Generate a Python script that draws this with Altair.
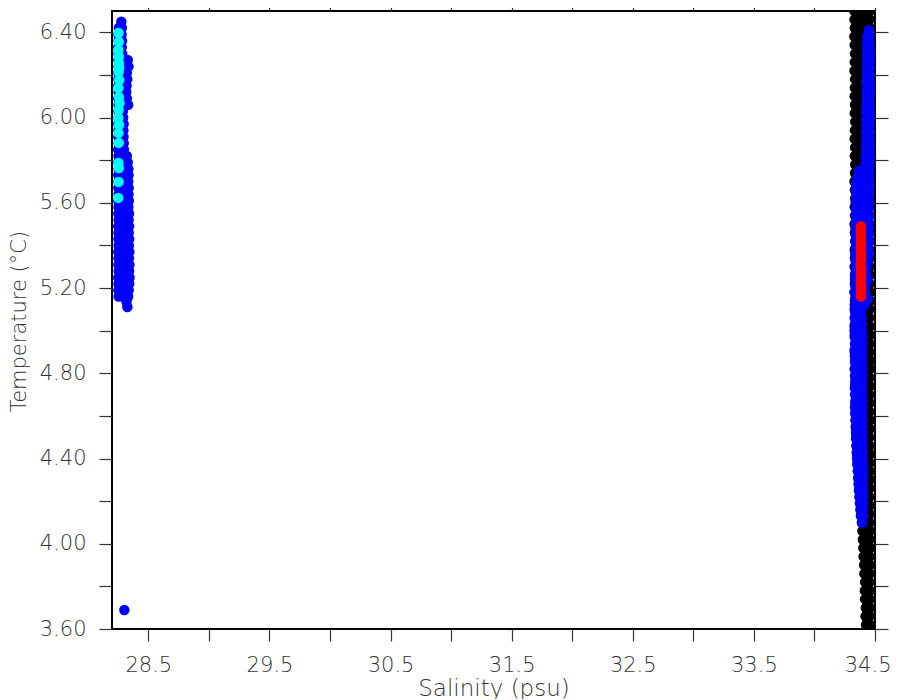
import altair as alt
import pandas as pd

# ---------------- data ----------------
x_ticks = [28.5, 29.0, 29.5, 30.0, 30.5, 31.0, 31.5, 32.0, 32.5, 33.0, 33.5, 34.0, 34.5]
y_ticks = [3.6, 3.8, 4.0, 4.2, 4.4, 4.6, 4.8, 5.0, 5.2, 5.4, 5.6, 5.8, 6.0, 6.2, 6.4]

# black cloud (right), three columns per temperature row
black_t = [3.62, 3.66, 3.70, 3.74, 3.78, 3.82, 3.86, 3.90, 3.94, 3.98,
           4.02, 4.06, 4.10, 4.14, 4.18, 4.22, 4.26, 4.30, 4.34, 4.38,
           4.42, 4.46, 4.50, 4.54, 4.58, 4.62, 4.66, 4.70, 4.74, 4.78,
           4.82, 4.86, 4.90, 4.94, 4.98, 5.02, 5.06, 5.10, 5.14, 5.18,
           5.22, 5.26, 5.30, 5.34, 5.38, 5.42, 5.46, 5.50, 5.54, 5.58,
           5.62, 5.66, 5.70, 5.74, 5.78, 5.82, 5.86, 5.90, 5.94, 5.98,
           6.02, 6.06, 6.10, 6.14, 6.18, 6.22, 6.26, 6.30, 6.34, 6.38,
           6.42, 6.46, 6.50]
black_t_mid = [3.60, 3.64, 3.68, 3.72, 3.76, 3.80, 3.84, 3.88, 3.92, 3.96,
               4.00, 4.04, 4.08, 4.12, 4.16, 4.20, 4.24, 4.28, 4.32, 4.36,
               4.40, 4.44, 4.48, 4.52, 4.56, 4.60, 4.64, 4.68, 4.72, 4.76,
               4.80, 4.84, 4.88, 4.92, 4.96, 5.00, 5.04, 5.08, 5.12, 5.16,
               5.20, 5.24, 5.28, 5.32, 5.36, 5.40, 5.44, 5.48, 5.52, 5.56,
               5.60, 5.64, 5.68, 5.72, 5.76, 5.80, 5.84, 5.88, 5.92, 5.96,
               6.00, 6.04, 6.08, 6.12, 6.16, 6.20, 6.24, 6.28, 6.32, 6.36,
               6.40, 6.44, 6.48]
black_s_left = [34.426, 34.422, 34.424, 34.418, 34.416, 34.418, 34.412, 34.410, 34.406, 34.404,
                34.400, 34.396, 34.392, 34.388, 34.383, 34.378, 34.372, 34.366, 34.361, 34.356,
                34.352, 34.349, 34.346, 34.344, 34.342, 34.340, 34.338, 34.340, 34.336, 34.338,
                34.334, 34.336, 34.333, 34.337, 34.334, 34.332, 34.336, 34.333, 34.335, 34.331,
                34.334, 34.336, 34.332, 34.335, 34.333, 34.337, 34.334, 34.331, 34.335, 34.333,
                34.336, 34.334, 34.331, 34.335, 34.337, 34.333, 34.336, 34.332, 34.334, 34.337,
                34.333, 34.335, 34.332, 34.334, 34.336, 34.331, 34.333, 34.335, 34.332, 34.330,
                34.333, 34.331, 34.330]
black_s_mid = [34.442, 34.440, 34.441, 34.438, 34.437, 34.438, 34.435, 34.434, 34.432, 34.431,
               34.429, 34.427, 34.425, 34.423, 34.420, 34.418, 34.415, 34.412, 34.409, 34.407,
               34.405, 34.403, 34.402, 34.401, 34.400, 34.399, 34.398, 34.399, 34.397, 34.398,
               34.396, 34.397, 34.395, 34.397, 34.396, 34.395, 34.397, 34.395, 34.396, 34.394,
               34.396, 34.397, 34.395, 34.396, 34.395, 34.397, 34.396, 34.394, 34.396, 34.395,
               34.397, 34.396, 34.394, 34.396, 34.397, 34.395, 34.396, 34.394, 34.395, 34.397,
               34.395, 34.396, 34.394, 34.395, 34.397, 34.394, 34.395, 34.396, 34.394, 34.393,
               34.395, 34.394, 34.393]
black_s_right = [34.458, 34.456, 34.460, 34.457, 34.459, 34.455, 34.458, 34.460, 34.456, 34.459,
                 34.457, 34.460, 34.456, 34.458, 34.459, 34.455, 34.457, 34.460, 34.458, 34.456,
                 34.459, 34.457, 34.455, 34.458, 34.460, 34.456, 34.458, 34.457, 34.459, 34.455,
                 34.458, 34.460, 34.456, 34.457, 34.459, 34.458, 34.455, 34.457, 34.460, 34.458,
                 34.456, 34.459, 34.457, 34.458, 34.455, 34.460, 34.457, 34.459, 34.456, 34.458,
                 34.460, 34.457, 34.455, 34.458, 34.459, 34.456, 34.458, 34.460, 34.457, 34.455,
                 34.458, 34.456, 34.459, 34.457, 34.460, 34.458, 34.455, 34.457, 34.459, 34.456,
                 34.458, 34.457, 34.459]

# blue cloud (right)
blue_r_t = [6.41, 6.38, 6.35, 6.32, 6.29, 6.26, 6.23, 6.20, 6.17, 6.14, 6.11,
            6.08, 6.05, 6.02, 5.99, 5.96, 5.93, 5.90, 5.87, 5.84, 5.81, 5.78,
            5.75, 5.72,
            5.69, 5.66, 5.63, 5.60, 5.57, 5.54, 5.51, 5.48, 5.45, 5.42, 5.39, 5.36,
            5.33, 5.30, 5.27, 5.24, 5.21, 5.18, 5.15, 5.12, 5.09, 5.06, 5.03, 5.00,
            4.97, 4.94, 4.91, 4.88, 4.85, 4.82, 4.79, 4.76, 4.73, 4.70,
            4.67, 4.64, 4.61, 4.58, 4.55, 4.52, 4.49, 4.46, 4.43,
            4.40, 4.37, 4.34, 4.31, 4.28, 4.25, 4.22, 4.19, 4.16, 4.13, 4.10]
blue_r_a = [34.450, 34.436, 34.433, 34.435, 34.432, 34.434, 34.431, 34.433, 34.430, 34.432, 34.429,
            34.431, 34.428, 34.430, 34.427, 34.429, 34.426, 34.428, 34.425, 34.427, 34.424, 34.422,
            34.370, 34.356,
            34.345, 34.342, 34.344, 34.341, 34.343, 34.340, 34.342, 34.339, 34.341, 34.338, 34.340, 34.337,
            34.339, 34.336, 34.338, 34.335, 34.337, 34.334, 34.336, 34.333, 34.335, 34.332, 34.334, 34.331,
            34.333, 34.335, 34.332, 34.334, 34.336, 34.333, 34.335, 34.337, 34.334, 34.336,
            34.338, 34.335, 34.337, 34.339, 34.341, 34.343, 34.345, 34.347, 34.349,
            34.352, 34.355, 34.358, 34.361, 34.364, 34.367, 34.371, 34.375, 34.379, 34.384, 34.394]
blue_r_b = [None, 34.456, 34.458, 34.457, 34.459, 34.457, 34.458, 34.456, 34.458, 34.457, 34.459,
            34.456, 34.458, 34.457, 34.459, 34.456, 34.458, 34.457, 34.459, 34.456, 34.458, 34.457,
            34.410, 34.400,
            34.395, 34.392, 34.394, 34.391, 34.393, 34.390, 34.392, 34.389, 34.391, 34.388, 34.390, 34.387,
            34.389, 34.386, 34.388, 34.385, 34.387, 34.384, 34.386, 34.383, 34.385, 34.390, 34.392, 34.394,
            34.395, 34.397, 34.394, 34.396, 34.397, 34.395, 34.397, 34.394, 34.396, 34.397,
            34.395, 34.397, 34.396, 34.398, 34.396, 34.398, 34.397, 34.399, 34.398,
            34.400, 34.401, 34.400, 34.402, 34.401, 34.402, 34.401, 34.402, 34.400, 34.400, None]
blue_r_c = [None] * 22 + [34.455, 34.452,
            34.450, 34.452, 34.449, 34.451, 34.448, 34.450, 34.447, 34.449, 34.446, 34.448, 34.445, 34.447,
            34.440, 34.432, 34.425, 34.440, 34.420, 34.418, 34.438, 34.415, None, None, None, None] + [None] * 30

# blue cloud (left)
blue_l_t = [6.45, 6.42, 6.39, 6.36, 6.33, 6.30, 6.27, 6.24, 6.21, 6.18, 6.15,
            6.12, 6.09, 6.06, 6.03, 6.00, 5.97, 5.94, 5.91, 5.88, 5.85, 5.82,
            5.79, 5.76, 5.73, 5.70, 5.67, 5.64, 5.61, 5.58, 5.55, 5.52, 5.49,
            5.46, 5.43, 5.40, 5.37, 5.34, 5.31, 5.28, 5.25, 5.22, 5.19, 5.16]
blue_l_a = [28.277, 28.256, 28.253, 28.255, 28.252, 28.254, 28.253, 28.255, 28.252, 28.254, 28.253,
            28.255, 28.252, 28.254, 28.253, 28.255, 28.252, 28.254, 28.253, 28.255, 28.252, 28.254,
            28.253, 28.255, 28.252, 28.254, 28.253, 28.255, 28.252, 28.254, 28.253, 28.255, 28.252,
            28.254, 28.253, 28.255, 28.252, 28.254, 28.253, 28.255, 28.252, 28.254, 28.253, 28.255]
blue_l_b = [None, 28.281, 28.279, 28.283, 28.280, 28.284, 28.290, 28.292, 28.289, 28.293, 28.290,
            28.292, 28.291, 28.293, 28.290, 28.292, 28.296, 28.294, 28.295, 28.297, 28.298, 28.296,
            28.297, 28.294, 28.296, 28.293, 28.295, 28.297, 28.294, 28.296, 28.293, 28.295, 28.297,
            28.294, 28.296, 28.293, 28.295, 28.297, 28.294, 28.296, 28.293, 28.295, 28.297, 28.294]
blue_l_c = [None, None, None, None, None, None, 28.330, 28.336, 28.322, 28.326, 28.320,
            28.318, 28.322, 28.333, None, None, None, None, None, None, None, 28.322,
            28.330, 28.335, 28.337, 28.334, 28.338, 28.336, 28.339, 28.335, 28.340, 28.337, 28.341,
            28.338, 28.342, 28.339, 28.343, 28.340, 28.344, 28.341, 28.345, 28.342, 28.338, 28.333]
blue_extra_s = [28.327, 28.320, 28.302]
blue_extra_t = [5.111, 5.135, 3.689]

# cyan points (left)
cyan_t = [6.397, 6.355, 6.317, 6.285, 6.256, 6.235, 6.214, 6.176, 6.139, 6.096,
          6.068, 6.035, 5.998, 5.965, 5.928, 5.881, 5.787, 5.763, 5.698, 5.623]
cyan_s = [28.254, 28.256, 28.252, 28.256, 28.258, 28.259, 28.255, 28.260, 28.253, 28.257,
          28.262, 28.255, 28.252, 28.258, 28.254, 28.256, 28.253, 28.257, 28.255, 28.252]

# red points (right)
red_t = [5.49, 5.47, 5.45, 5.43, 5.41, 5.39, 5.37, 5.35, 5.33, 5.31,
         5.29, 5.27, 5.25, 5.23, 5.21, 5.19, 5.17, 5.16]
red_s = [34.384, 34.382, 34.385, 34.383, 34.386, 34.382, 34.384, 34.387, 34.383, 34.381,
         34.385, 34.383, 34.386, 34.382, 34.384, 34.386, 34.383, 34.385]

# ---------------- table ----------------
rows = []


def add(s_list, t_list, group):
    for s, t in zip(s_list, t_list):
        if s is not None:
            rows.append({"s": s, "t": t, "g": group, "o": len(rows)})


add(black_s_left, black_t, "black")
add(black_s_mid, black_t_mid, "black")
add(black_s_right, black_t, "black")
add(blue_r_a, blue_r_t, "blue")
add(blue_r_b, blue_r_t, "blue")
add(blue_r_c, blue_r_t, "blue")
add(blue_l_a, blue_l_t, "blue")
add(blue_l_b, blue_l_t, "blue")
add(blue_l_c, blue_l_t, "blue")
add(blue_extra_s, blue_extra_t, "blue")
add(cyan_s, cyan_t, "cyan")
add(red_s, red_t, "red")
df = pd.DataFrame(rows)

FONT = "DejaVu Sans"
TXT = "#333333"

x_scale = alt.Scale(domain=[28.2, 34.5], nice=False, zero=False)
y_scale = alt.Scale(domain=[3.6, 6.5], nice=False, zero=False)

x_lab = "(round(datum.value*2) % 2 == 1) ? format(datum.value, '.1f') : ''"
y_lab = "(round(datum.value*10 - 36) % 4 == 0) ? format(datum.value, '.2f') : ''"

common = dict(domain=False, grid=False, tickColor=TXT, tickWidth=1.2,
              labelFont=FONT, labelFontSize=21, labelColor=TXT, labelFontWeight=200,
              labelOverlap=False,
              titleFont=FONT, titleFontWeight=200, titleColor=TXT)

points = alt.Chart(df).mark_circle(size=110, opacity=1, clip=True).encode(
    x=alt.X("s:Q", scale=x_scale,
            axis=alt.Axis(orient="bottom", values=x_ticks, labelExpr=x_lab, tickSize=12,
                          labelPadding=13, labelFlush=5, labelFlushOffset=16,
                          title="Salinity (psu)", titleFontSize=23, titleY=66,
                          titleBaseline="alphabetic", **common)),
    y=alt.Y("t:Q", scale=y_scale,
            axis=alt.Axis(orient="left", values=y_ticks, labelExpr=y_lab, tickSize=13,
                          labelPadding=13, labelFlush=False,
                          title="Temperature (°C)", titleFontSize=21, titleX=-87, titleY=310,
                          titleAngle=270, titleBaseline="alphabetic", **common)),
    color=alt.Color("g:N", legend=None,
                    scale=alt.Scale(domain=["black", "blue", "cyan", "red"],
                                    range=["#000000", "#0000ff", "#00ffff", "#ff0000"])),
    order=alt.Order("o:Q"),
)

dummy = pd.DataFrame({"s": [31.0], "t": [5.0]})
mirror = alt.Chart(dummy).mark_point(opacity=0).encode(
    x=alt.X("s:Q", scale=x_scale,
            axis=alt.Axis(orient="top", values=x_ticks, labels=False, tickSize=12,
                          title="", domain=False, grid=False, tickColor=TXT, tickWidth=1.2)),
    y=alt.Y("t:Q", scale=y_scale,
            axis=alt.Axis(orient="right", values=y_ticks, labels=False, tickSize=13,
                          title="", domain=False, grid=False, tickColor=TXT, tickWidth=1.2)),
)

chart = alt.layer(points, mirror).resolve_axis(x="independent", y="independent").properties(
    width=763, height=618,
    autosize=alt.AutoSizeParams(type="none"),
    padding={"left": 104, "top": 3, "right": 17, "bottom": 70},
).configure_view(stroke="#000000", strokeWidth=2)

chart.save("out.html", embed_options={"renderer": "svg", "actions": False})
